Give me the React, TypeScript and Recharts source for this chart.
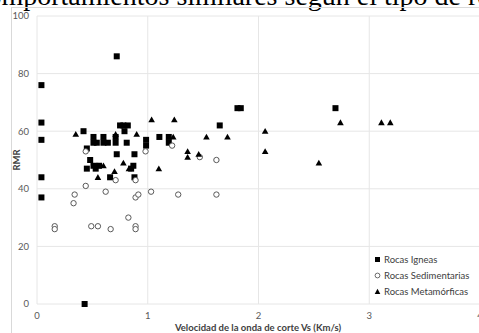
import React from 'react';
import { ScatterChart, Scatter, XAxis, YAxis, CartesianGrid } from 'recharts';

// [Vs (Km/s), RMR]
const igneas: [number, number][] = [
  [0.04, 76], [0.04, 63], [0.04, 57], [0.04, 44], [0.04, 37],
  [0.43, 0],
  [0.42, 60], [0.45, 54], [0.48, 50], [0.45, 47], [0.51, 48], [0.53, 47], [0.56, 48],
  [0.51, 58], [0.51, 56], [0.54, 56],
  [0.6, 58], [0.6, 56], [0.64, 56],
  [0.66, 44],
  [0.71, 58], [0.71, 56], [0.72, 52],
  [0.72, 86],
  [0.75, 62], [0.78, 62], [0.82, 62], [0.79, 60],
  [0.81, 56],
  [0.88, 52], [0.87, 48], [0.85, 47], [0.88, 44],
  [0.985, 57], [0.985, 55],
  [1.105, 58], [1.19, 58], [1.19, 56],
  [1.65, 62], [1.81, 68], [1.84, 68], [2.695, 68],
];

const sedimentarias: [number, number][] = [
  [0.16, 27], [0.16, 26], [0.33, 35], [0.34, 38], [0.44, 41], [0.44, 53],
  [0.49, 27], [0.55, 27], [0.62, 39], [0.665, 26], [0.71, 43], [0.825, 30],
  [0.89, 43], [0.89, 37], [0.915, 38], [0.89, 27], [0.89, 26], [0.98, 53],
  [1.03, 39], [1.22, 55], [1.47, 51], [1.62, 50], [1.275, 38], [1.62, 38],
];

const metamorficas: [number, number][] = [
  [0.35, 59], [0.55, 48], [0.6, 48], [0.55, 44], [0.7, 46], [0.71, 59],
  [0.78, 49], [0.83, 47], [0.9, 59], [1.035, 64], [1.1, 47], [1.24, 64],
  [1.23, 58], [1.36, 53], [1.36, 51], [1.46, 52], [1.53, 58], [1.72, 58],
  [2.06, 60], [2.06, 53], [2.545, 49], [2.74, 63], [3.11, 63], [3.19, 63],
];

const xTicks = [0, 1, 2, 3, 4];
const yTicks = [0, 20, 40, 60, 80, 100];

const toPts = (arr: [number, number][]) => arr.map(([x, y]) => ({ x, y }));

const FONT = 'Lato, "Open Sans", sans-serif';

const Square = (p: any) => <rect x={p.cx - 3} y={p.cy - 3} width={6} height={6} fill="#000" />;
const OpenCircle = (p: any) => <circle cx={p.cx} cy={p.cy} r={2.7} fill="#fff" stroke="#595959" strokeWidth={1} />;
const Tri = (p: any) => (
  <polygon points={`${p.cx},${p.cy - 3.2} ${p.cx + 3.3},${p.cy + 2.6} ${p.cx - 3.3},${p.cy + 2.6}`} fill="#000" />
);

const legendItems = [
  { name: 'Rocas Igneas', icon: <rect x={1} y={1} width={5} height={5} fill="#000" /> },
  { name: 'Rocas Sedimentarias', icon: <circle cx={3.5} cy={3.5} r={2.4} fill="#fff" stroke="#595959" strokeWidth={0.9} /> },
  { name: 'Rocas Metamórficas', icon: <polygon points="3.5,0.8 6.3,6 0.7,6" fill="#000" /> },
];

export default function App() {
  return (
    <div style={{ position: 'absolute', left: 0, top: 0, width: 479, height: 333, overflow: 'hidden', background: '#fff' }}>
      <div
        style={{
          position: 'absolute', left: -25, top: -18, whiteSpace: 'nowrap',
          fontFamily: '"Liberation Serif", serif', fontSize: 28, lineHeight: '28px', color: '#000',
        }}
      >
        comportamientos similares según el tipo de roca
      </div>
      <div style={{ position: 'absolute', left: 11, top: 7, width: 600, height: 400, border: '1px solid #d9d9d9' }} />
      <div style={{ position: 'absolute', left: 0, top: 0 }}>
        <ScatterChart width={500} height={333} margin={{ top: 16, right: 20, bottom: 0, left: 0 }}>
          <CartesianGrid stroke="#e6e6e6" fill="none" />
          <XAxis
            type="number"
            dataKey="x"
            domain={[0, 4]}
            ticks={xTicks}
            height={29}
            axisLine={false}
            tickLine={false}
            tickMargin={2}
            tick={{ fontSize: 9.5, fill: '#595959', fontFamily: FONT }}
          />
          <YAxis
            type="number"
            dataKey="y"
            domain={[0, 100]}
            ticks={yTicks}
            width={37}
            axisLine={false}
            tickLine={false}
            tick={{ fontSize: 9.5, fill: '#595959', fontFamily: FONT }}
          />
          <Scatter name="Rocas Igneas" data={toPts(igneas)} shape={Square} isAnimationActive={false} />
          <Scatter name="Rocas Sedimentarias" data={toPts(sedimentarias)} shape={OpenCircle} isAnimationActive={false} />
          <Scatter name="Rocas Metamórficas" data={toPts(metamorficas)} shape={Tri} isAnimationActive={false} />
        </ScatterChart>
      </div>
      <div
        style={{
          position: 'absolute', left: 2, top: 154, width: 30, height: 12, lineHeight: '12px', textAlign: 'center',
          transform: 'rotate(-90deg)', fontFamily: FONT, fontWeight: 700, fontSize: 9.5, color: '#404040',
        }}
      >
        RMR
      </div>
      <div
        style={{
          position: 'absolute', left: 108, top: 322, width: 300, height: 11, lineHeight: '11px', textAlign: 'center',
          fontFamily: FONT, fontWeight: 700, fontSize: 9.5, color: '#404040',
        }}
      >
        Velocidad de la onda de corte Vs (Km/s)
      </div>
      <div style={{ position: 'absolute', left: 374, top: 251, fontFamily: FONT, fontSize: 9.5, color: '#404040' }}>
        {legendItems.map((it) => (
          <div key={it.name} style={{ display: 'flex', alignItems: 'center', height: 16, whiteSpace: 'nowrap' }}>
            <svg width={7} height={7} style={{ marginRight: 3 }}>{it.icon}</svg>
            <span>{it.name}</span>
          </div>
        ))}
      </div>
    </div>
  );
}
